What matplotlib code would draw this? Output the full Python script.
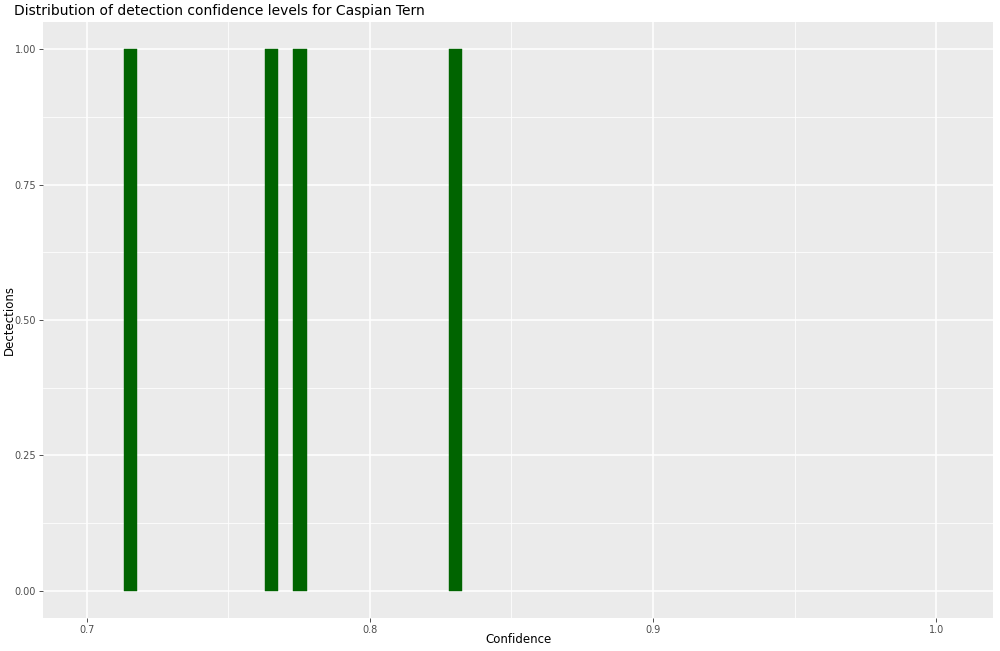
import matplotlib.pyplot as plt
import numpy as np

# Histogram bins with detections (bin centres and counts)
bin_centres = [0.7153, 0.7652, 0.7753, 0.8302]
counts = [1, 1, 1, 1]
bin_width = 0.0047

x_ticks = [0.7, 0.8, 0.9, 1.0]
y_ticks = [0.0, 0.25, 0.5, 0.75, 1.0]

fig = plt.figure(figsize=(10, 6.51), dpi=100)
ax = fig.add_axes([0.043, 1 - 618 / 651, 0.950, (618 - 22) / 651])

ax.set_facecolor('#EBEBEB')
for s in ax.spines.values():
    s.set_visible(False)

# grid: major and minor like ggplot
ax.set_xticks(x_ticks)
ax.set_xticks([0.75, 0.85, 0.95], minor=True)
ax.set_yticks(y_ticks)
ax.set_yticks([0.125, 0.375, 0.625, 0.875], minor=True)
ax.grid(which='major', color='white', linewidth=1.1)
ax.grid(which='minor', color='white', linewidth=0.55)
ax.set_axisbelow(True)

ax.bar(bin_centres, counts, width=bin_width, color='darkgreen', edgecolor='darkgreen', linewidth=0.3)

ax.set_xlim(0.6845, 1.0201)
ax.set_ylim(-0.05, 1.05)

ax.set_xticklabels(['0.7', '0.8', '0.9', '1.0'])
ax.set_yticklabels(['0.00', '0.25', '0.50', '0.75', '1.00'])
ax.tick_params(which='major', length=3, width=0.6, color='#333333', labelsize=7, labelcolor='#4D4D4D', pad=2)
ax.tick_params(which='minor', length=0)

ax.set_xlabel('Confidence', fontsize=8.5)
ax.set_ylabel('Dectections', fontsize=8.5)
ax.xaxis.set_label_coords(0.5, -0.026)
ax.yaxis.set_label_coords(-0.0285, 0.5)
ax.set_title('Distribution of detection confidence levels for Caspian Tern', fontsize=10, loc='left', x=-0.031, pad=5)

fig.savefig('out.png', dpi=100)
